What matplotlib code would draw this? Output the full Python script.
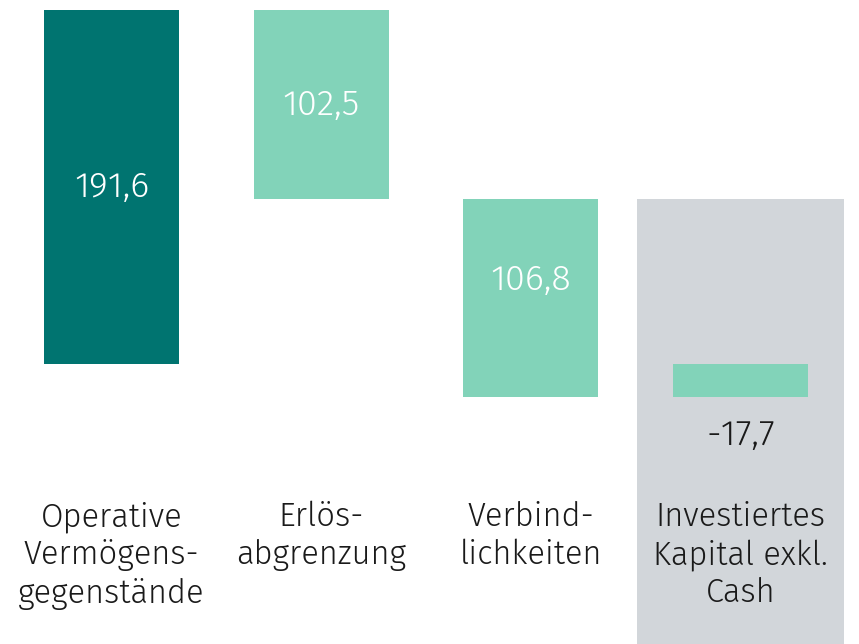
import matplotlib
matplotlib.use("Agg")
import matplotlib.pyplot as plt
from matplotlib import font_manager

categories = ["Operative\nVermögens-\ngegenstände", "Erlös-\nabgrenzung", "Verbind-\nlichkeiten",
              "Investiertes\nKapital exkl.\nCash"]
values = [191.6, -102.5, -106.8, -17.7]
labels = ["191,6", "102,5", "106,8", "-17,7"]

DARK = "#007470"
LIGHT = "#82D3B9"
GRAY = "#D2D6DA"
TXT = "#1a1a1a"

fams = {f.name for f in font_manager.fontManager.ttflist}
family = "Fira Sans" if "Fira Sans" in fams else ("Open Sans" if "Open Sans" in fams else "DejaVu Sans")
plt.rcParams["font.family"] = [family, "DejaVu Sans"]

fig = plt.figure(figsize=(8.59, 6.44), dpi=100)
ax = fig.add_axes([0, 0, 1, 1])
ax.set_xlim(-0.532, 3.565)
ax.set_ylim(-151.5, 197.0)
ax.axis("off")

# waterfall bases
bottoms = []
heights = []
cum = 0.0
for i, v in enumerate(values):
    if i == len(values) - 1:
        bottoms.append(0)
        heights.append(cum)
    else:
        bottoms.append(cum if v >= 0 else cum + v)
        heights.append(abs(v))
        cum += v

x = list(range(len(values)))
# gray background for total
ax.bar(x[-1], 89.1 - (-151.5), bottom=-151.5, width=0.987, color=GRAY, zorder=0)

colors = [DARK, LIGHT, LIGHT, LIGHT]
for i in x:
    ax.bar(i, heights[i], bottom=bottoms[i], width=0.644, color=colors[i], zorder=2)

VW = 350
vs = 26
ax.text(0, 191.6 / 2, labels[0], ha="center", va="center", color="white", fontsize=vs, fontweight=VW, zorder=3)
ax.text(1, (191.6 + 89.1) / 2, labels[1], ha="center", va="center", color="white", fontsize=vs, fontweight=VW, zorder=3)
ax.text(2, 89.1 / 2 + 1, labels[2], ha="center", va="center", color="white", fontsize=vs, fontweight=VW, zorder=3)
ax.text(3, -38.5, labels[3], ha="center", va="center", color=TXT, fontsize=vs, fontweight=VW, zorder=3)

for i, c in enumerate(categories):
    ax.text(i, -74.0, c, ha="center", va="top", color=TXT, fontsize=23.5, fontweight=VW,
            linespacing=1.24, zorder=3)

fig.savefig("out.png", dpi=100)
